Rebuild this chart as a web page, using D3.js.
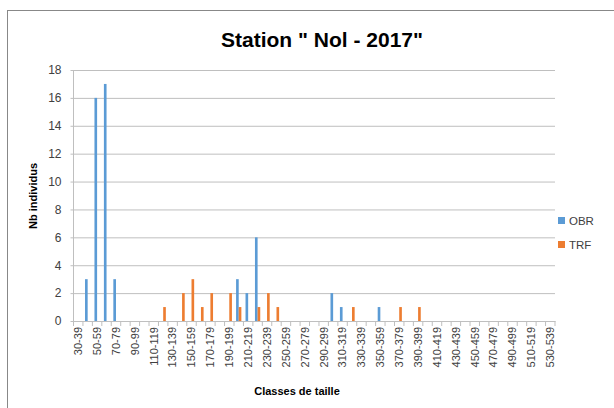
<!DOCTYPE html>
<html>
<head>
<meta charset="utf-8">
<script src="https://cdn.jsdelivr.net/npm/d3@7"></script>
<style>
  body { margin: 0; background: #fff; }
  svg { display: block; font-family: "Liberation Sans", Arial, sans-serif; }
</style>
</head>
<body>
<div id="chart"></div>
<script>
// size classes 30-39 ... 530-539
const classes = d3.range(30, 540, 10).map((d) => d + "-" + (d + 9));
const seriesNames = ["OBR", "TRF"];
const obrValues = [0, 3, 16, 17, 3, 0, 0, 0, 0, 0, 0, 0, 0, 0, 0, 0, 0, 3, 2, 6, 0, 0, 0, 0, 0, 0, 0, 2, 1, 0, 0, 0, 1, 0, 0, 0, 0, 0, 0, 0, 0, 0, 0, 0, 0, 0, 0, 0, 0, 0, 0];
const trfValues = [0, 0, 0, 0, 0, 0, 0, 0, 0, 1, 0, 2, 3, 1, 2, 0, 2, 1, 0, 1, 2, 1, 0, 0, 0, 0, 0, 0, 0, 1, 0, 0, 0, 0, 1, 0, 1, 0, 0, 0, 0, 0, 0, 0, 0, 0, 0, 0, 0, 0, 0];
const yTicks = [0, 2, 4, 6, 8, 10, 12, 14, 16, 18];
const colors = ["#5B9BD5", "#ED7D31"];

const W = 614, H = 408;
const margin = { top: 70, right: 59, bottom: 87, left: 73.5 };
const width = W - margin.left - margin.right;
const height = H - margin.top - margin.bottom;

const svg = d3.select("#chart").append("svg")
  .attr("width", W)
  .attr("height", H);

// chart frame
svg.append("rect")
  .attr("x", 7.5).attr("y", 10.5)
  .attr("width", 620).attr("height", 420)
  .attr("fill", "#fff")
  .attr("stroke", "#888");

svg.append("text")
  .attr("x", 322).attr("y", 47)
  .attr("text-anchor", "middle")
  .style("font-size", "21px")
  .style("font-weight", "bold")
  .attr("fill", "#000")
  .text("Station \" Nol - 2017\"");

const g = svg.append("g")
  .attr("transform", "translate(" + margin.left + "," + margin.top + ")");

const x = d3.scaleBand().domain(classes).range([0, width]);
const x1 = d3.scaleBand().domain(seriesNames)
  .range([x.bandwidth() * 0.22, x.bandwidth() * 0.78]);
const y = d3.scaleLinear().domain([0, 18]).range([height, 0]);

// grid + y axis
const yAxis = g.append("g")
  .call(d3.axisLeft(y).tickValues(yTicks).tickSize(-width - 3).tickPadding(8))
  .attr("transform", "translate(-3,0)");
yAxis.select(".domain").remove();
yAxis.selectAll(".tick line").attr("stroke", "#bfbfbf");
yAxis.selectAll(".tick text")
  .attr("fill", "#404040")
  .style("font-size", "12px")
  .attr("dx", -1);

g.append("line")
  .attr("x1", 0).attr("x2", 0)
  .attr("y1", 0).attr("y2", height)
  .attr("stroke", "#bfbfbf");

// bars
const data = classes.map((c, i) => ({ cls: c, values: [obrValues[i], trfValues[i]] }));
const groups = g.selectAll(".cls")
  .data(data)
  .enter().append("g")
  .attr("transform", (d) => "translate(" + x(d.cls) + ",0)");

groups.selectAll("rect")
  .data((d) => d.values.map((v, k) => ({ name: seriesNames[k], value: v })))
  .enter().append("rect")
  .filter((d) => d.value > 0)
  .attr("x", (d) => x1(d.name))
  .attr("width", x1.bandwidth())
  .attr("y", (d) => y(d.value))
  .attr("height", (d) => height - y(d.value))
  .attr("fill", (d) => colors[seriesNames.indexOf(d.name)]);

// x axis
const xAxis = g.append("g")
  .attr("transform", "translate(0," + height + ")")
  .call(d3.axisBottom(x).tickSize(0).tickPadding(6)
    .tickFormat((d, i) => (i % 2 === 0 ? d : "")));
xAxis.select(".domain").attr("stroke", "#bfbfbf");
xAxis.selectAll(".tick text")
  .attr("transform", "rotate(-90)")
  .attr("text-anchor", "end")
  .attr("dy", "0.35em")
  .attr("x", -6)
  .attr("y", 0)
  .attr("fill", "#404040")
  .style("font-size", "11px");

// category boundary ticks
g.append("g").selectAll("line")
  .data(d3.range(classes.length + 1))
  .enter().append("line")
  .attr("x1", (i) => i * x.step()).attr("x2", (i) => i * x.step())
  .attr("y1", height).attr("y2", height + 5)
  .attr("stroke", "#bfbfbf");

// axis titles
svg.append("text")
  .attr("x", 297).attr("y", 395)
  .attr("text-anchor", "middle")
  .style("font-size", "11px")
  .style("font-weight", "bold")
  .text("Classes  de taille");

svg.append("text")
  .attr("transform", "translate(37,196) rotate(-90)")
  .attr("text-anchor", "middle")
  .style("font-size", "11px")
  .style("font-weight", "bold")
  .text("Nb individus");

// legend
const legend = svg.append("g")
  .attr("transform", "translate(558,217)");
seriesNames.forEach((name, i) => {
  legend.append("rect")
    .attr("x", 0).attr("y", i * 24)
    .attr("width", 7).attr("height", 7)
    .attr("fill", colors[i]);
  legend.append("text")
    .attr("x", 11).attr("y", i * 24 + 8)
    .style("font-size", "11.5px")
    .attr("fill", "#404040")
    .text(name);
});
</script>
</body>
</html>
